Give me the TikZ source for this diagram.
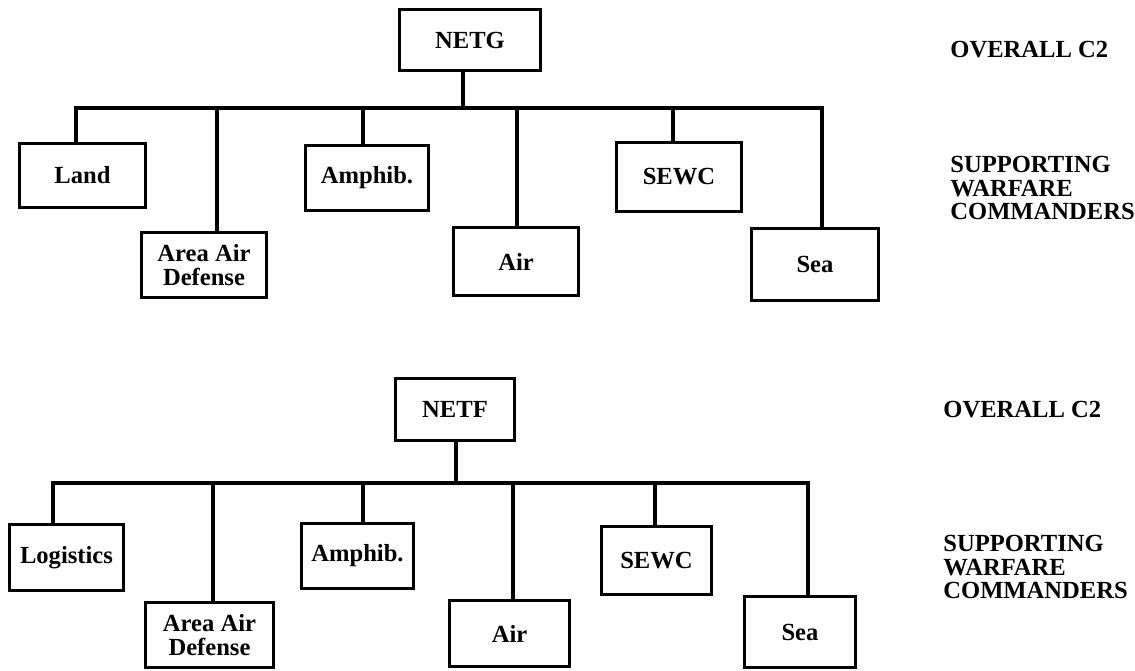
\documentclass[tikz,border=0pt]{standalone}
\usepackage{fontspec}
\setmainfont{Liberation Serif}
\usepackage{tikz}

\begin{document}
\begin{tikzpicture}[x=0.02cm, y=-0.02cm,
	box/.style={draw, line width=1.8pt, inner sep=0pt, align=center, font=\fontsize{14}{13.5}\selectfont\bfseries},
	wire/.style={line width=1.8pt},
	tag/.style={anchor=west, inner sep=0pt, align=left, font=\fontsize{14}{13.5}\selectfont\bfseries}]
	\useasboundingbox (0,0) rectangle (1135,671);
	% NETG
	\node[box, minimum width=2.82cm, minimum height=1.22cm] (netg) at (470,40) {NETG};
	\node[box, minimum width=2.52cm, minimum height=1.28cm] (land) at (82.5,175.5) {Land};
	\node[box, minimum width=2.50cm, minimum height=1.30cm] (aadg) at (204,265) {Area Air\\Defense};
	\node[box, minimum width=2.46cm, minimum height=1.30cm] (amphg) at (367,178) {Amphib.};
	\node[box, minimum width=2.50cm, minimum height=1.36cm] (airg) at (516,261.5) {Air};
	\node[box, minimum width=2.50cm, minimum height=1.38cm] (sewcg) at (679,177) {SEWC};
	\node[box, minimum width=2.54cm, minimum height=1.44cm] (seag) at (815,264.5) {Sea};
	\node[tag] (ovg) at (950,50) {OVERALL C2};
	\node[tag] (supg) at (950,188) {SUPPORTING\\WARFARE\\COMMANDERS};
	\coordinate (g0) at (463,108);
	\coordinate (g1) at (76,108);
	\coordinate (g2) at (217,108);
	\coordinate (g3) at (363,108);
	\coordinate (g4) at (517,108);
	\coordinate (g5) at (673,108);
	\coordinate (g6) at (822,108);
	\draw[wire] (netg.south -| g0) -- (g0);
	\draw[wire] (land.north -| g1) -- (g1) -- (g6) -- (seag.north -| g6);
	\draw[wire] (g2) -- (aadg.north -| g2);
	\draw[wire] (g3) -- (amphg.north -| g3);
	\draw[wire] (g4) -- (airg.north -| g4);
	\draw[wire] (g5) -- (sewcg.north -| g5);
	% NETF
	\node[box, minimum width=2.38cm, minimum height=1.24cm] (netf) at (455,409.5) {NETF};
	\node[box, minimum width=2.28cm, minimum height=1.32cm] (logi) at (66.5,557.5) {Logistics};
	\node[box, minimum width=2.56cm, minimum height=1.30cm] (aadf) at (209.5,635) {Area Air\\Defense};
	\node[box, minimum width=2.24cm, minimum height=1.30cm] (amphf) at (357.5,556) {Amphib.};
	\node[box, minimum width=2.40cm, minimum height=1.32cm] (airf) at (509.5,633.5) {Air};
	\node[box, minimum width=2.20cm, minimum height=1.36cm] (sewcf) at (656.5,560.5) {SEWC};
	\node[box, minimum width=2.22cm, minimum height=1.42cm] (seaf) at (800,632) {Sea};
	\node[tag] (ovf) at (943,410) {OVERALL C2};
	\node[tag] (supf) at (943,567) {SUPPORTING\\WARFARE\\COMMANDERS};
	\coordinate (f0) at (456,483);
	\coordinate (f1) at (53,483);
	\coordinate (f2) at (213,483);
	\coordinate (f3) at (363,483);
	\coordinate (f4) at (513,483);
	\coordinate (f5) at (655,483);
	\coordinate (f6) at (808,483);
	\draw[wire] (netf.south -| f0) -- (f0);
	\draw[wire] (logi.north -| f1) -- (f1) -- (f6) -- (seaf.north -| f6);
	\draw[wire] (f2) -- (aadf.north -| f2);
	\draw[wire] (f3) -- (amphf.north -| f3);
	\draw[wire] (f4) -- (airf.north -| f4);
	\draw[wire] (f5) -- (sewcf.north -| f5);
\end{tikzpicture}
\end{document}
